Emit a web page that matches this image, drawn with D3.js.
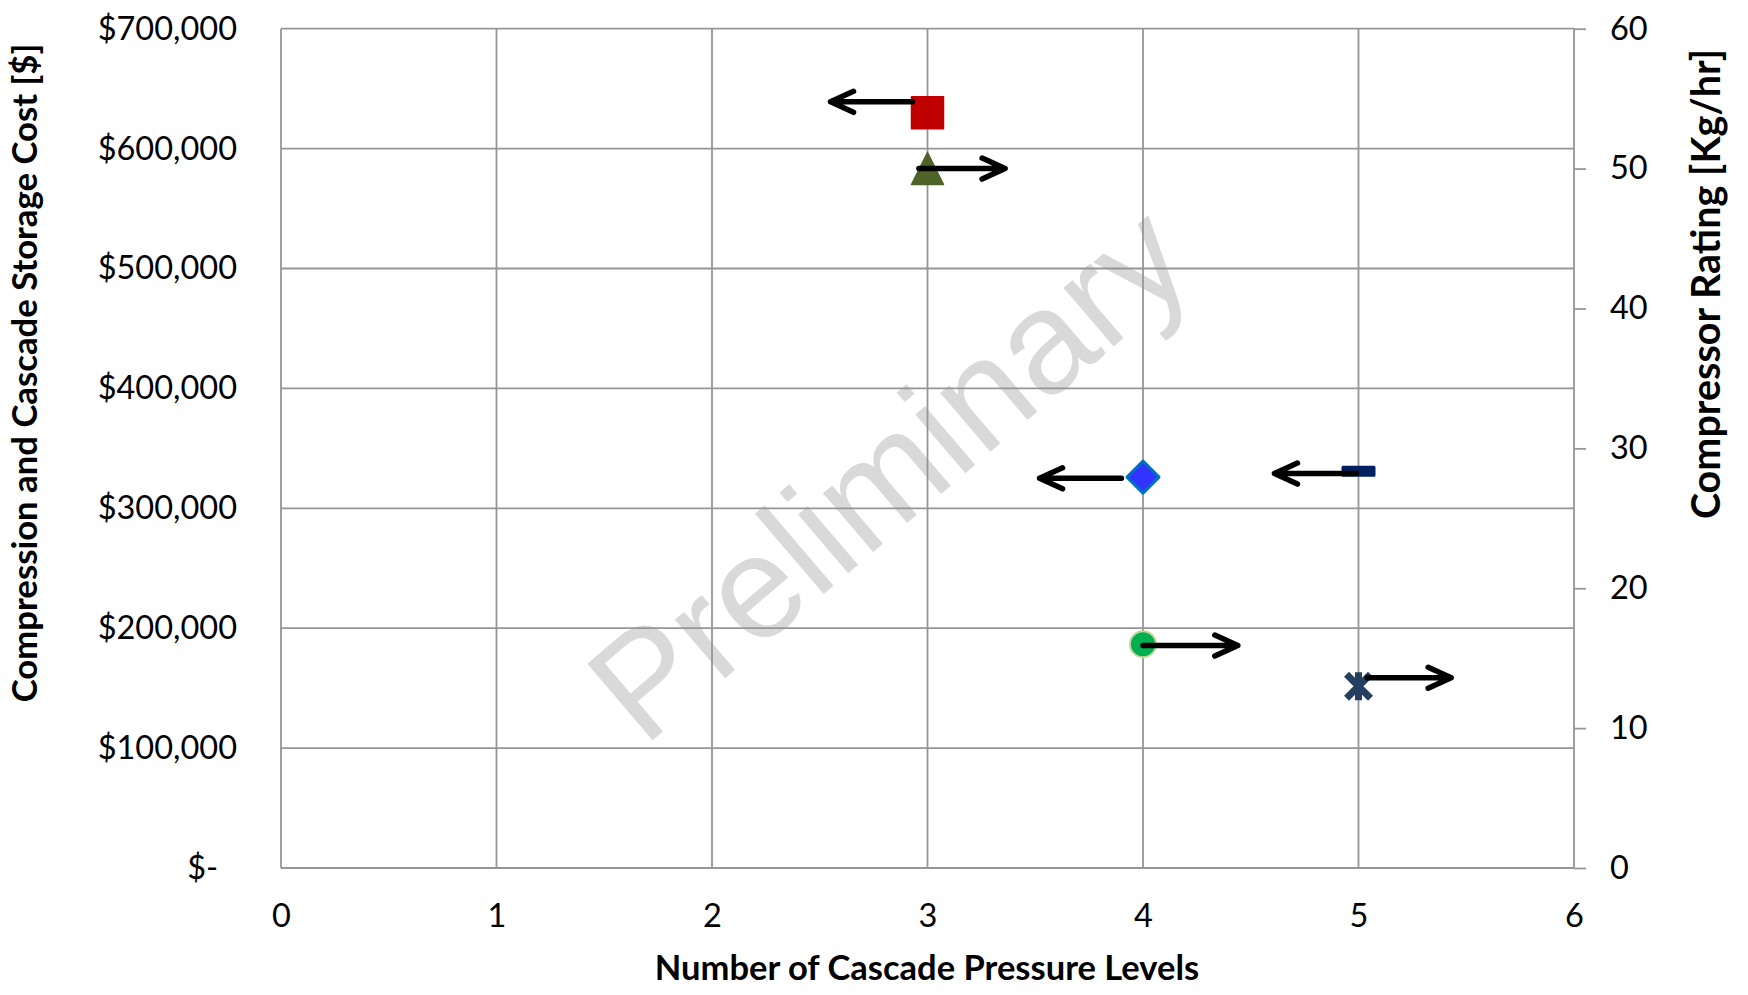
<!DOCTYPE html>
<html>
<head>
<meta charset="utf-8">
<script src="https://cdn.jsdelivr.net/npm/d3@7"></script>
<style>
body{margin:0;background:#fff;}
text{font-family:Lato,"Open Sans",sans-serif;fill:#000;}
</style>
</head>
<body>
<svg width="1748" height="995"></svg>
<script>
// x categories (number of cascade pressure levels)
var levels = [3, 4, 5];
// left axis series: compression and cascade storage cost ($)
var costValues = [630000, 326000, 331000];
var costMarkers = ["square", "diamond", "dash"];
// right axis series: compressor rating (kg/hr)
var ratingValues = [50, 16, 13];
var ratingMarkers = ["triangle", "circle", "star"];

// tick values
var xTicks = [0, 1, 2, 3, 4, 5, 6];
var costTicks = [0, 100000, 200000, 300000, 400000, 500000, 600000, 700000];
var ratingTicks = [0, 10, 20, 30, 40, 50, 60];

// arrows pointing to the axis each marker belongs to
var arrowFrom = [2.93, 3.90, 4.99, 2.96, 4.00, 5.04];
var arrowTo   = [2.55, 3.52, 4.61, 3.36, 4.44, 5.43];
var arrowAt   = [639000, 325000, 329000, 50, 15.9, 13.6];
var arrowAxis = ["cost", "cost", "cost", "rating", "rating", "rating"];

var svg = d3.select("svg");
var plotL = 281, plotT = 28.7, plotW = 1293, plotH = 839.3;

var x = d3.scaleLinear().domain([0, 6]).range([plotL, plotL + plotW]);
var yCost = d3.scaleLinear().domain([0, 700000]).range([plotT + plotH, plotT]);
var yRate = d3.scaleLinear().domain([0, 60]).range([plotT + plotH, plotT]);

// watermark sits behind the grid
svg.append("text")
  .attr("transform", "translate(921,511) rotate(-40.5)")
  .attr("text-anchor", "middle")
  .style("font-family", "'Liberation Sans', Arial, sans-serif")
  .style("font-size", "146px")
  .style("fill", "#d9d9d9")
  .text("Preliminary");

// grid
var grid = svg.append("g");
grid.selectAll("line.h").data(costTicks).enter().append("line")
  .attr("x1", plotL).attr("x2", plotL + plotW)
  .attr("y1", function(d){return yCost(d);})
  .attr("y2", function(d){return yCost(d);});
grid.selectAll("line.v").data(xTicks).enter().append("line")
  .attr("y1", plotT).attr("y2", plotT + plotH)
  .attr("x1", function(d){return x(d);})
  .attr("x2", function(d){return x(d);});
grid.selectAll("line").attr("stroke", "#969696").attr("stroke-width", 1.8);

// left axis labels
var fmt = d3.format("$,");
var axL = svg.append("g").attr("transform", "translate(" + plotL + ",0)")
  .call(d3.axisLeft(yCost).tickValues(costTicks).tickSize(0).tickPadding(44)
    .tickFormat(function(d){ return d === 0 ? "$-\u2007" : fmt(d); }));
axL.select(".domain").remove();

// right axis with outward ticks
var axR = svg.append("g").attr("transform", "translate(" + (plotL + plotW) + ",0)")
  .call(d3.axisRight(yRate).tickValues(ratingTicks).tickSize(12).tickSizeOuter(0).tickPadding(24));
axR.select(".domain").remove();
axR.selectAll("line").attr("stroke", "#969696").attr("stroke-width", 1.8);

// bottom axis labels
var axB = svg.append("g").attr("transform", "translate(0," + (plotT + plotH) + ")")
  .call(d3.axisBottom(x).tickValues(xTicks).tickSize(0).tickPadding(36)
    .tickFormat(d3.format("d")));
axB.select(".domain").remove();

svg.selectAll(".tick text").style("font-size", "32.5px")
  .style("font-family", "Lato,'Open Sans',sans-serif").attr("fill", "#000");

// axis titles
svg.append("text")
  .attr("transform", "translate(37,373) rotate(-90)")
  .attr("text-anchor", "middle")
  .style("font-size", "34.7px").style("font-weight", "bold")
  .text("Compression and Cascade Storage Cost [$]");
svg.append("text")
  .attr("transform", "translate(1720,284) rotate(-90)")
  .attr("text-anchor", "middle")
  .style("font-size", "39.5px").style("font-weight", "bold")
  .text("Compressor Rating [Kg/hr]");
svg.append("text")
  .attr("x", 927).attr("y", 980)
  .attr("text-anchor", "middle")
  .style("font-size", "34.5px").style("font-weight", "bold")
  .text("Number of Cascade Pressure Levels");

// marker shapes
var markerStyle = {
  square:   {d: "M-16,-16h32v32h-32Z", fill: "#C00000", stroke: "#C00000", sw: 1.5},
  diamond:  {d: "M0,-16L16,0L0,16L-16,0Z", fill: "#3333FF", stroke: "#0070C0", sw: 3},
  dash:     {d: "M-15.5,-4h31v8h-31Z", fill: "#002060", stroke: "#002060", sw: 3},
  triangle: {d: "M0,-16L16,16L-16,16Z", fill: "#4F6228", stroke: "#4F6228", sw: 1.5},
  circle:   {d: d3.symbol(d3.symbolCircle, Math.PI * 13 * 13)(), fill: "#00B050", stroke: "#C3D69B", sw: 2},
  star:     {d: "M-12,-12L12,12M12,-12L-12,12M0,-14L0,14", fill: "none", stroke: "#243F60", sw: 7}
};

var points = [];
levels.forEach(function(lv, i){
  points.push({x: lv, y: yCost(costValues[i]), m: costMarkers[i]});
  points.push({x: lv, y: yRate(ratingValues[i]), m: ratingMarkers[i]});
});

svg.append("g").selectAll("path").data(points).enter().append("path")
  .attr("transform", function(d){ return "translate(" + x(d.x) + "," + d.y + ")"; })
  .attr("d", function(d){ return markerStyle[d.m].d; })
  .attr("fill", function(d){ return markerStyle[d.m].fill; })
  .attr("stroke", function(d){ return markerStyle[d.m].stroke; })
  .attr("stroke-width", function(d){ return markerStyle[d.m].sw; })
  .attr("stroke-linejoin", "round");

// arrows
var arrows = arrowFrom.map(function(f, i){
  var yy = arrowAxis[i] === "cost" ? yCost(arrowAt[i]) : yRate(arrowAt[i]);
  return {x0: x(f), x1: x(arrowTo[i]), y: yy};
});
var ag = svg.append("g").attr("fill", "none").attr("stroke", "#000")
  .attr("stroke-width", 5.5).attr("stroke-linecap", "round").attr("stroke-linejoin", "round");
ag.selectAll("path").data(arrows).enter().append("path")
  .attr("d", function(d){
    var dir = d.x1 < d.x0 ? 1 : -1;
    return "M" + d.x0 + "," + d.y + "L" + d.x1 + "," + d.y +
      "M" + (d.x1 + dir * 23) + "," + (d.y - 10.5) + "L" + d.x1 + "," + d.y +
      "L" + (d.x1 + dir * 23) + "," + (d.y + 10.5);
  });
</script>
</body>
</html>
